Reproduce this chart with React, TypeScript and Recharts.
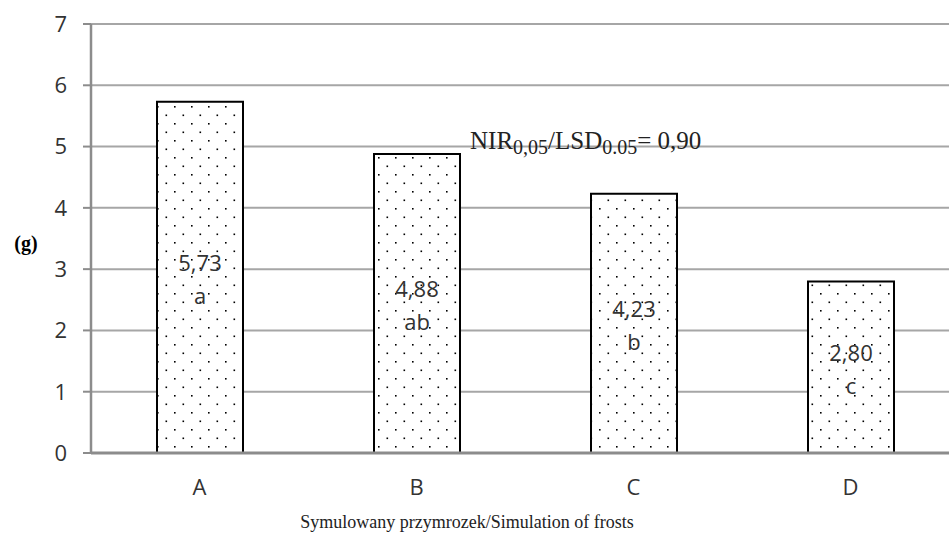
import React from 'react';
import { BarChart, Bar, XAxis, YAxis, CartesianGrid, LabelList } from 'recharts';

const categories = ['A', 'B', 'C', 'D'];
const means = [5.73, 4.88, 4.23, 2.8];
const groups = ['a', 'ab', 'b', 'c'];
const yTicks = [0, 1, 2, 3, 4, 5, 6, 7];
const boundaryTicks = [0, 1, 2, 3, 4];

const data = categories.map((name, i) => ({ name, value: means[i], group: groups[i] }));

const SANS = '"Open Sans", "Noto Sans", sans-serif';
const SERIF = '"Liberation Serif", "Times New Roman", serif';

const BarText = (props: any) => {
  const { x, y, width, height, index } = props;
  const cx = x + width / 2;
  const cy = y + height / 2;
  return (
    <g fontFamily={SANS} fontSize={22} fill="#333" textAnchor="middle">
      <text x={cx} y={cy - 15} dominantBaseline="central">
        {means[index].toFixed(2).replace('.', ',')}
      </text>
      <text x={cx} y={cy + 18} dominantBaseline="central">
        {groups[index]}
      </text>
    </g>
  );
};

const App: React.FC = () => {
  return (
    <div style={{ position: 'absolute', left: 0, top: 0, width: 949, height: 538, overflow: 'hidden', background: '#fff' }}>
      <BarChart width={970} height={538} data={data} margin={{ top: 24, right: 11, left: 0, bottom: 0 }}>
        <defs>
          <pattern id="dots" width="17" height="17" patternUnits="userSpaceOnUse">
            <rect width="17" height="17" fill="#fff" />
            <rect x="4" y="4" width="1.6" height="1.6" fill="#000" />
            <rect x="12.5" y="12.5" width="1.6" height="1.6" fill="#000" />
          </pattern>
        </defs>
        <CartesianGrid vertical={false} stroke="#a6a6a6" strokeWidth={2} />
        <XAxis
          xAxisId="edges"
          type="number"
          dataKey="value"
          domain={[0, 4]}
          ticks={boundaryTicks}
          tick={false}
          height={0}
          axisLine={false}
          tickSize={8}
          tickLine={{ stroke: '#8c8c8c', strokeWidth: 2 }}
        />
        <XAxis
          xAxisId="cat"
          dataKey="name"
          height={85}
          tickLine={false}
          tickMargin={20}
          axisLine={{ stroke: '#8c8c8c', strokeWidth: 3 }}
          tick={{ fontSize: 22, fill: '#333', fontFamily: SANS }}
        />
        <YAxis
          width={91}
          domain={[0, 7]}
          ticks={yTicks}
          interval={0}
          tickSize={8}
          tickMargin={16}
          axisLine={{ stroke: '#8c8c8c', strokeWidth: 2.5 }}
          tickLine={{ stroke: '#8c8c8c', strokeWidth: 2 }}
          tick={{ fontSize: 22, fill: '#333', fontFamily: SANS }}
        />
        <Bar
          xAxisId="cat"
          dataKey="value"
          barSize={86}
          fill="url(#dots)"
          stroke="#000"
          strokeWidth={2}
          isAnimationActive={false}
        >
          <LabelList dataKey="value" content={BarText} />
        </Bar>
        <text x={26} y={243} textAnchor="middle" dominantBaseline="central" fontFamily={SERIF} fontWeight="bold" fontSize={20} fill="#000">
          (g)
        </text>
        <text x={467} y={522} textAnchor="middle" dominantBaseline="central" fontFamily={SERIF} fontSize={18} fill="#222">
          Symulowany przymrozek/Simulation of frosts
        </text>
        <text x={470} y={149} fontFamily={SERIF} fontSize={25} fill="#222">
          NIR
          <tspan fontSize={20} dy={5}>0,05</tspan>
          <tspan dy={-5}>/LSD</tspan>
          <tspan fontSize={20} dy={5}>0.05</tspan>
          <tspan dy={-5}>= 0,90</tspan>
        </text>
      </BarChart>
    </div>
  );
};

export default App;
